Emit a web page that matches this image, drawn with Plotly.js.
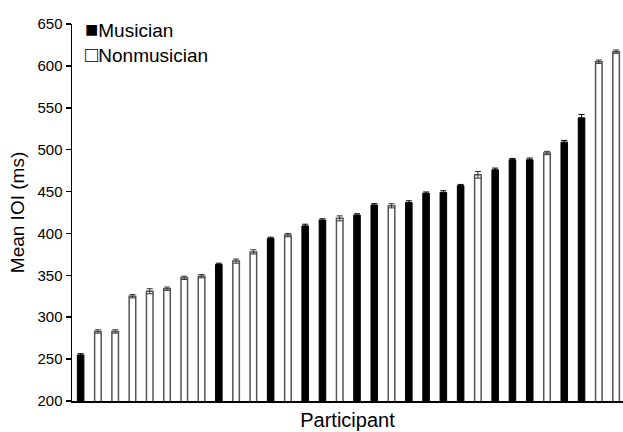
<!DOCTYPE html>
<html>
<head>
<meta charset="utf-8">
<script src="https://cdn.plot.ly/plotly-3.0.1.min.js"></script>
<style>html,body{margin:0;padding:0;background:#fff;}#chart{width:623px;height:432px;}</style>
</head>
<body>
<div id="chart"></div>
<script>
// Participants sorted by mean IOI
const participants = [1,2,3,4,5,6,7,8,9,10,11,12,13,14,15,16,17,18,19,20,21,22,23,24,25,26,27,28,29,30,31,32];
const groups = ["M","N","N","N","N","N","N","N","M","N","N","M","N","M","M","N","M","M","N","M","M","M","M","N","M","M","M","N","M","M","N","N"];
const meanIOI = [255,283,283,325,331,334,347,349,363,367,378,394,398,409,416,418,422,434,433,437,448,449,457,470,476,488,488,496,509,538,605,617];
const errIOI  = [1.5,2,2,2,3,2,2,2,1.5,2.5,2.5,1.5,2,2,1.5,3,1.5,1.5,2.5,2,1.5,2,1.5,4,2,1.5,2,2,2,4,2,2];
const yTicks = [200,250,300,350,400,450,500,550,600,650];
const groupNames = {M:"Musician", N:"Nonmusician"};

function pick(g){
  const x=[],y=[],e=[];
  participants.forEach((p,i)=>{ if(groups[i]===g){ x.push(i); y.push(meanIOI[i]); e.push(errIOI[i]); } });
  return {x,y,e};
}
const m = pick("M"), n = pick("N");
const FONT = "Liberation Sans, Arial, sans-serif";

const traces = [
  {type:'bar', name:groupNames.M, x:m.x, y:m.y, width:0.38,
   marker:{color:'#000000', line:{color:'#000000', width:1}},
   error_y:{type:'data', array:m.e, visible:true, color:'#000000', thickness:1, width:3}},
  {type:'bar', name:groupNames.N, x:n.x, y:n.y, width:0.38,
   marker:{color:'#ffffff', line:{color:'#555555', width:1.5}},
   error_y:{type:'data', array:n.e, visible:true, color:'#333333', thickness:1, width:3}}
];

const legendText = '<span style="font-size:22px">\u25A0</span>' + groupNames.M + '<br>' +
                   '<span style="font-size:22px">\u25A1</span>' + groupNames.N;

const layout = {
  width:623, height:432,
  margin:{l:72, r:0, t:24, b:31},
  paper_bgcolor:'#ffffff', plot_bgcolor:'#ffffff',
  barmode:'overlay',
  font:{family:FONT, color:'#000000'},
  showlegend:false,
  annotations:[
    {xref:'paper', yref:'paper', x:0.02, y:1.023, xanchor:'left', yanchor:'top', align:'left', showarrow:false,
     text:legendText, font:{size:19, family:FONT, color:'#000000'}}
  ],
  xaxis:{range:[-0.5,31.4], showticklabels:false, ticks:'', showgrid:false, zeroline:false,
         showline:true, linecolor:'#000000', linewidth:1.5,
         title:{text:'Participant', font:{size:20, family:FONT}, standoff:11}},
  yaxis:{range:[200,650], tickvals:yTicks, ticks:'outside', ticklen:5, tickwidth:1.5, tickcolor:'#000000',
         showgrid:false, zeroline:false, showline:true, linecolor:'#000000', linewidth:1.5,
         tickfont:{size:15, family:FONT},
         title:{text:'Mean IOI (ms)', font:{size:19, family:FONT}, standoff:8}}
};

Plotly.newPlot('chart', traces, layout, {displayModeBar:false, staticPlot:true});
</script>
</body>
</html>
